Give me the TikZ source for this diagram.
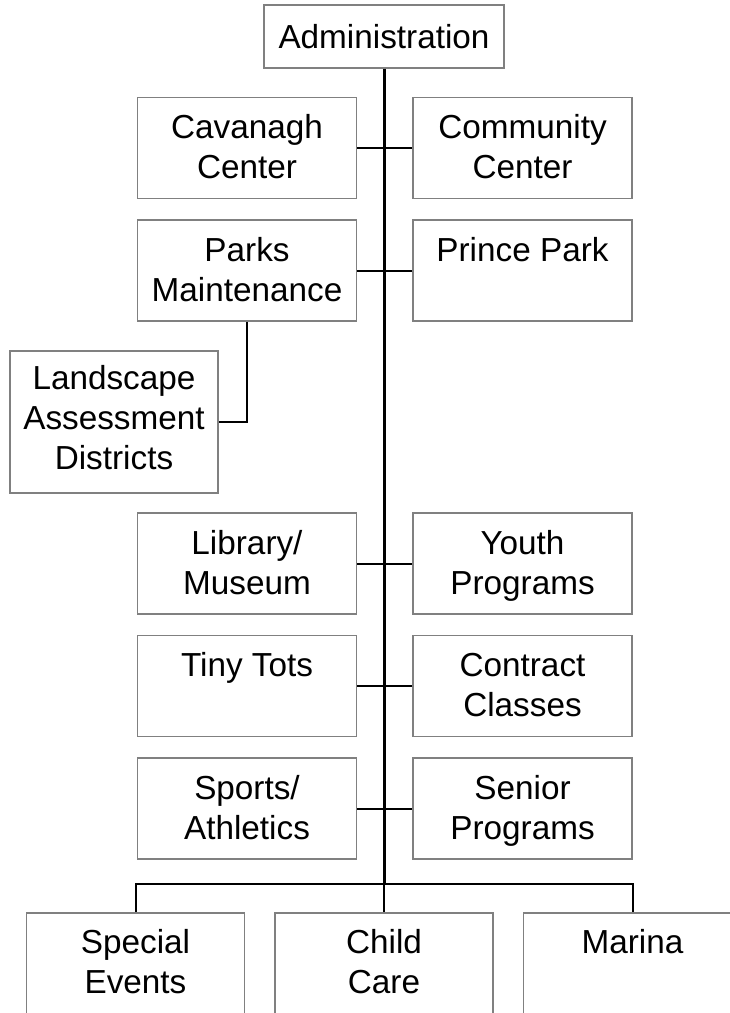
\documentclass[tikz,border=0pt]{standalone}
\usepackage{fontspec}
\setmainfont{Liberation Sans}
\usetikzlibrary{positioning}
\definecolor{boxgray}{RGB}{128,128,128}
\newcommand\deptlabel[4]{\parbox[c][#2][t]{#1}{\centering\rule{0pt}{#3}#4\par}}
\newcommand\dept[1]{\deptlabel{219pt}{101pt}{41pt}{#1}}
\tikzset{
	unit/.style = {
		draw = boxgray,
		fill = white,
		rectangle,
		line width = 1.5pt,
		inner sep = 0pt
	},
	trunk/.style = {line width = 3pt},
	branch/.style = {line width = 2pt}
}

\begin{document}
\begin{tikzpicture}[x=1pt, y=-1pt, font=\fontsize{33.3}{40}\selectfont]
    \useasboundingbox (0,0) rectangle (730,1013) ;
    \clip (0,0) rectangle (730,1013) ;

    \node [unit] (admin) at (384,36.5) {\deptlabel{240pt}{63pt}{43pt}{Administration}} ;

    \node [unit] (cavanagh) at (247,148) {\dept{Cavanagh\\Center}} ;
    \node [unit, right = 55pt of cavanagh] (community) {\dept{Community\\Center}} ;
    \node [unit, below = 20pt of cavanagh] (parks) {\dept{Parks\\Maintenance}} ;
    \node [unit, below = 20pt of community] (prince) {\dept{Prince Park}} ;

    \node [unit] (landscape) at (114,422) {\deptlabel{208pt}{142pt}{38pt}{Landscape\\Assessment\\Districts}} ;

    \node [unit] (library) at (247,563.5) {\dept{Library/\\Museum}} ;
    \node [unit, right = 55pt of library] (youth) {\dept{Youth\\Programs}} ;
    \node [unit, below = 20pt of library] (tots) {\dept{Tiny Tots}} ;
    \node [unit, below = 20pt of youth] (contract) {\dept{Contract\\Classes}} ;
    \node [unit, below = 20pt of tots] (sports) {\dept{Sports/\\Athletics}} ;
    \node [unit, below = 20pt of contract] (senior) {\dept{Senior\\Programs}} ;

    \node [unit, anchor = north] (child) at (384,912) {\deptlabel{218pt}{130pt}{41pt}{Child\\Care}} ;
    \node [unit, left = 29pt of child] (events) {\deptlabel{218pt}{130pt}{41pt}{Special\\Events}} ;
    \node [unit, right = 29pt of child] (marina) {\deptlabel{218pt}{130pt}{41pt}{Marina}} ;

    \coordinate (hub) at (384,884) ;

    \draw [branch] (cavanagh) -- (community) ;
    \draw [branch] (parks) -- (prince) ;
    \draw [branch] (library) -- (youth) ;
    \draw [branch] (tots) -- (contract) ;
    \draw [branch] (sports) -- (senior) ;
    \draw [branch] (parks.south) |- (landscape.east) ;
    \draw [branch] (events.north) |- (hub) -| (marina.north) ;
    \draw [branch] (hub) -- (child.north) ;
    \draw [trunk] (admin.south) -- (hub) ;
\end{tikzpicture}
\end{document}
